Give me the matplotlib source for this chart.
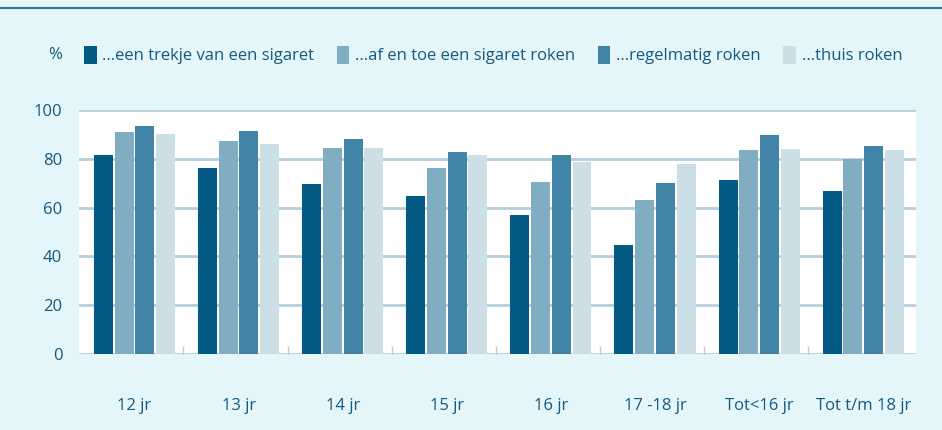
import matplotlib
matplotlib.use("Agg")
import matplotlib.pyplot as plt
import numpy as np
from matplotlib.font_manager import fontManager

categories = ["12 jr", "13 jr", "14 jr", "15 jr", "16 jr", "17 -18 jr", "Tot<16 jr", "Tot t/m 18 jr"]
series_names = ["...een trekje van een sigaret", "...af en toe een sigaret roken",
                "...regelmatig roken", "...thuis roken"]
trekje = [81.6, 76.2, 69.7, 64.8, 57.0, 44.7, 71.3, 66.8]
af_en_toe = [91.0, 87.3, 84.4, 76.2, 70.5, 63.1, 83.6, 79.9]
regelmatig = [93.4, 91.4, 88.1, 82.8, 81.6, 70.1, 89.8, 85.2]
thuis = [90.2, 86.1, 84.4, 81.6, 78.7, 77.9, 84.0, 83.6]
yticks = [0, 20, 40, 60, 80, 100]

colors = ["#035a85", "#81adc2", "#4284a5", "#cddfe6"]
bg = "#e4f6fa"
txt = "#17587f"

names = {f.name for f in fontManager.ttflist}
fam = "Liberation Sans Narrow" if "Liberation Sans Narrow" in names else "Open Sans"
plt.rcParams["font.family"] = [fam, "DejaVu Sans"]

fig = plt.figure(figsize=(9.42, 4.30), dpi=100, facecolor=bg)
ax = fig.add_axes([79/942, 1-354/430, (916-79)/942, (354-110)/430])
ax.set_facecolor("white")

x = np.arange(len(categories))
pitch = 0.199
width = 0.182
data = [trekje, af_en_toe, regelmatig, thuis]
handles = []
for k, (vals, c) in enumerate(zip(data, colors)):
    b = ax.bar(x + (k - 1.5) * pitch, vals, width=width, color=c, zorder=3, label=series_names[k])
    handles.append(b)

ax.set_xlim(-0.533, 7.507)
ax.set_ylim(0, 100)
ax.set_yticks(yticks)
ax.yaxis.grid(True, color="#b3cfdc", linewidth=2.0, zorder=1)
for s in ax.spines.values():
    s.set_visible(False)
ax.tick_params(axis="y", length=0, labelsize=12, labelcolor=txt, pad=12)
ax.set_xticks(x)
ax.set_xticklabels(categories)
ax.tick_params(axis="x", length=0, labelsize=12, labelcolor=txt, pad=32)
ax.set_xticks(x[:-1] + 0.47, minor=True)
ax.tick_params(axis="x", which="minor", direction="in", length=6, width=1, color="#b9ccd6")

# top rule
fig.add_artist(plt.Line2D([0, 1], [1-8/430, 1-8/430], color="#2a78a4", linewidth=1.5))

fig.text(55/942, 1-55/430, "%", fontsize=12, color=txt, ha="center", va="center")
fig.legend(handles=handles, loc="center left", bbox_to_anchor=(84/942, 1-55/430), ncol=4,
           frameon=False, fontsize=12, labelcolor=txt, handlelength=0.75, handleheight=1.3,
           handletextpad=0.35, columnspacing=1.35, borderaxespad=0, borderpad=0)

fig.savefig("out.png", dpi=100, facecolor=bg)
